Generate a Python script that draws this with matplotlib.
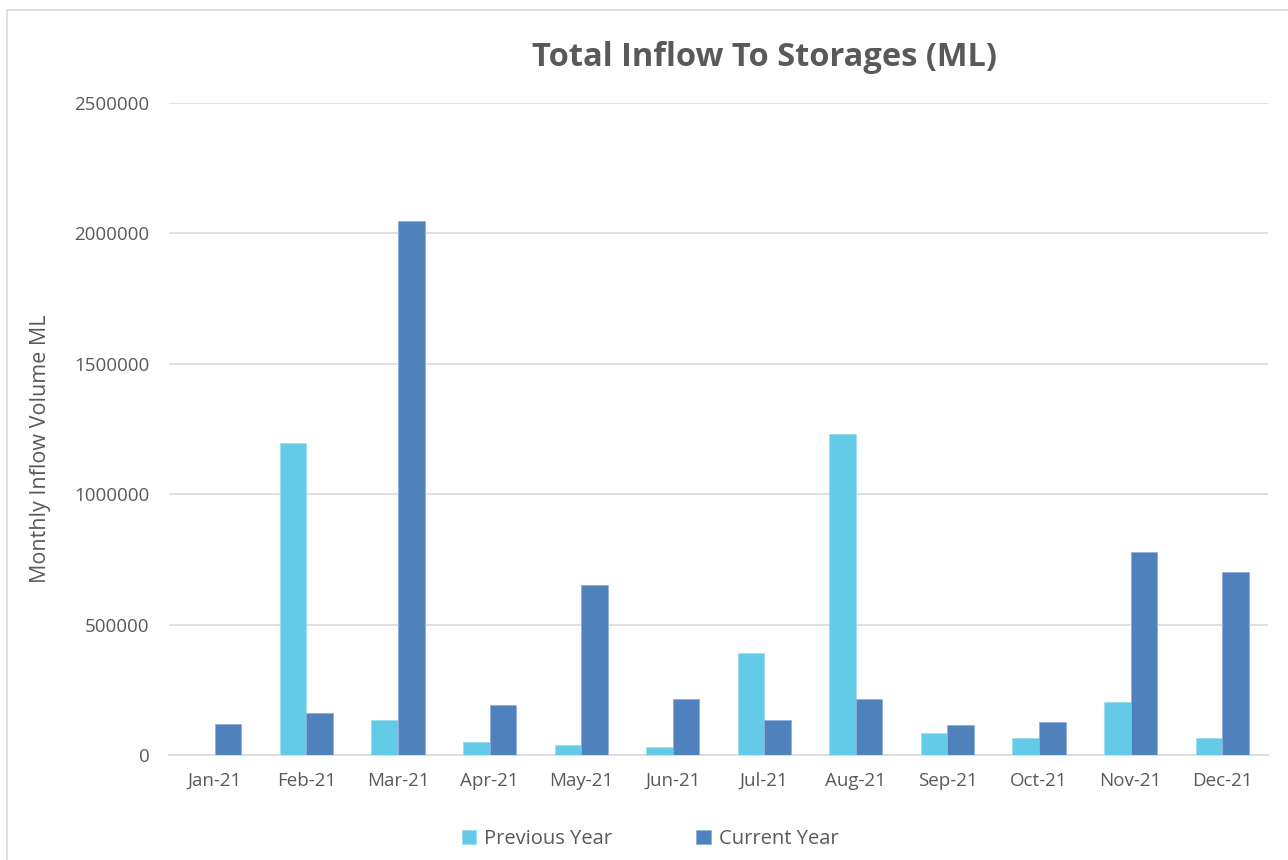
import matplotlib
matplotlib.use("Agg")
import matplotlib.pyplot as plt
from matplotlib.patches import Rectangle
import numpy as np

months = ["Jan-21", "Feb-21", "Mar-21", "Apr-21", "May-21", "Jun-21",
          "Jul-21", "Aug-21", "Sep-21", "Oct-21", "Nov-21", "Dec-21"]
previous_year = [0, 1195000, 135000, 50000, 40000, 30000,
                 393000, 1230000, 83000, 64000, 204000, 64000]
current_year = [118000, 160000, 2048000, 190000, 652000, 215000,
                135000, 215000, 115000, 127000, 777000, 700000]
yticks = [0, 500000, 1000000, 1500000, 2000000, 2500000]

plt.rcParams['font.family'] = ['Open Sans', 'DejaVu Sans']
txt = '#595959'

fig = plt.figure(figsize=(12.88, 8.6), dpi=100)
ax = fig.add_axes([169/1288, 1-755/860, (1268-169)/1288, (755-103)/860])

x = np.arange(len(months))
w = 0.29
ax.bar(x - w/2, previous_year, w, color='#63CBE8', edgecolor='#9BDDF0', linewidth=0.6,
       label='Previous Year', zorder=3)
ax.bar(x + w/2, current_year, w, color='#4F81BD', edgecolor='#8FAEDA', linewidth=0.6,
       label='Current Year', zorder=3)

ax.set_xlim(-0.5, 11.5)
ax.set_ylim(0, 2500000)
ax.set_yticks(yticks)
ax.set_yticklabels([str(v) for v in yticks])
ax.set_xticks(x)
ax.set_xticklabels(months)
ax.grid(axis='y', color='#D9D9D9', linewidth=1.2, zorder=0)
for s in ['top', 'right', 'left']:
    ax.spines[s].set_visible(False)
ax.spines['bottom'].set_color('#D9D9D9')
ax.spines['bottom'].set_linewidth(1.2)
ax.tick_params(axis='both', length=0, colors=txt)
ax.tick_params(axis='y', pad=14, labelsize=13.5)
ax.tick_params(axis='x', pad=12, labelsize=13.5)

fig.text(41/1288, 1-449/860, 'Monthly Inflow Volume ML', rotation=90, ha='center', va='center',
         color=txt, fontsize=15.5)
fig.text(764/1288, 1-57/860, 'Total Inflow To Storages (ML)', ha='center', va='center',
         color=txt, fontsize=23.5, fontweight='bold')

leg = fig.legend(loc='center', bbox_to_anchor=(650/1288, 1-839/860), ncol=2, frameon=False,
                 fontsize=14.5, handlelength=0.7, handleheight=0.7, columnspacing=4.2,
                 handletextpad=0.4)
for t in leg.get_texts():
    t.set_color(txt)

fig.patches.append(Rectangle((7/1288, -0.01), 1.0, 1-10/860+0.01, transform=fig.transFigure,
                             fill=False, edgecolor='#D9D9D9', linewidth=1.2))

fig.savefig('out.png', dpi=100, facecolor='white')
